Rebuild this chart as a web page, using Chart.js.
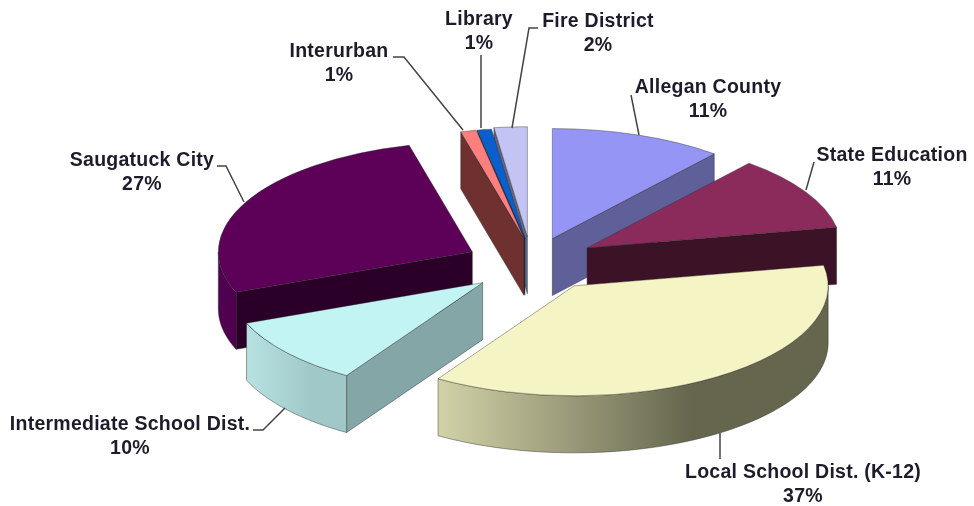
<!DOCTYPE html>
<html>
<head>
<meta charset="utf-8">
<title>Tax distribution</title>
<script src="https://cdn.jsdelivr.net/npm/chart.js@4"></script>
<style>
  html, body { margin: 0; padding: 0; background: #fff; }
  #pie { display: block; filter: blur(0.5px); }
</style>
</head>
<body>
<canvas id="pie" width="974" height="506"></canvas>
<script>
// Data
const categories = ["Allegan County", "State Education", "Local School Dist. (K-12)", "Intermediate School Dist.", "Saugatuck City", "Interurban", "Library", "Fire District"];
const values = [11, 11, 37, 10, 27, 1, 0.9, 2.1];

// Slice styling
const topColors = ["#9595f5", "#8b2b5c", "#f4f4c4", "#c2f4f4", "#5c0058", "#ff7f7f", "#0a5fcc", "#c4c4f4"];
const cutColors = ["#5f5f99", "#3c1226", "#66664e", "#84a6a6", "#2a0028", "#6f3030", "#05305f", "#666680"];
const wallFrom = ["#5f5f99", "#3c1226", "#d2d2a8", "#b8e2e2", "#4f0050", "#6f3030", "#05305f", "#666680"];
const wallTo = ["#5f5f99", "#3c1226", "#66664e", "#a0c8c8", "#4f0050", "#6f3030", "#05305f", "#666680"];

// Exploded pie layout
const radius = 254;
const tilt = 0.433;
const depth = 57;
const pieX = 532;
const pieY = 262;
const explode = [60, 64, 75, 64, 67, 37, 44, 70];
const lift = [1, 0, -3, 3, 3, -8, -5, 5];

// Label layout: centre x, y of the name line, and the leader line points
const labelX = [708, 892, 803, 130, 142, 339, 479, 598];
const labelY = [88, 156, 473, 425, 161, 52, 20, 22];
const leaders = [
  [[631, 95], [639, 135]],
  [[814, 162], [806, 190]],
  [[720, 459], [720, 433]],
  [[253, 430], [263, 430], [285, 408]],
  [[217, 166], [226, 166], [244, 202]],
  [[393, 57], [404, 57], [463, 130]],
  [[481, 55], [481, 128]],
  [[538, 28], [529, 28], [512, 128]],
];

function slicePoint(origin, angle, r, drop) {
  return {
    x: origin.x + Math.cos(angle) * r,
    y: origin.y + Math.sin(angle) * r * tilt + drop,
  };
}

function fillPoly(ctx, pts, fill) {
  ctx.beginPath();
  pts.forEach((p, i) => (i ? ctx.lineTo(p.x, p.y) : ctx.moveTo(p.x, p.y)));
  ctx.closePath();
  ctx.fillStyle = fill;
  ctx.fill();
  ctx.lineWidth = 0.8;
  ctx.strokeStyle = "rgba(40,40,40,0.55)";
  ctx.stroke();
}

function drawCut(ctx, origin, angle, fill) {
  const a = slicePoint(origin, angle, 0, 0);
  const b = slicePoint(origin, angle, radius, 0);
  fillPoly(ctx, [a, b, { x: b.x, y: b.y + depth }, { x: a.x, y: a.y + depth }], fill);
}

function drawWall(ctx, origin, start, end, i) {
  // only the part of the rim that faces the viewer
  let from = start;
  let to = end;
  if (Math.sin(from) < 0) from = from < 0 ? 0 : from;
  if (to > Math.PI) to = Math.PI;
  if (to <= from || from > Math.PI) return;

  const pts = [];
  const steps = 60;
  for (let s = 0; s <= steps; s++) {
    pts.push(slicePoint(origin, from + ((to - from) * s) / steps, radius, 0));
  }
  for (let s = steps; s >= 0; s--) {
    pts.push(slicePoint(origin, from + ((to - from) * s) / steps, radius, depth));
  }
  const xs = pts.map((p) => p.x);
  const grad = ctx.createLinearGradient(Math.min(...xs), 0, Math.max(...xs), 0);
  grad.addColorStop(0, wallFrom[i]);
  grad.addColorStop(0.65, wallTo[i]);
  grad.addColorStop(1, wallTo[i]);
  fillPoly(ctx, pts, grad);
}

// Draws the library's arc elements as tilted, extruded slices
const tiltedPie = {
  id: "tiltedPie",
  beforeDatasetDraw() {
    return false;
  },
  afterDatasetsDraw(chart) {
    const ctx = chart.ctx;
    const arcs = chart.getDatasetMeta(0).data;

    const slices = arcs.map((arc, i) => {
      const mid = (arc.startAngle + arc.endAngle) / 2;
      return {
        arc,
        i,
        origin: {
          x: pieX + Math.cos(mid) * explode[i],
          y: pieY + Math.sin(mid) * explode[i] * tilt + lift[i],
        },
      };
    });
    slices.sort((a, b) => a.origin.y - b.origin.y || b.i - a.i);

    slices.forEach(({ arc, i, origin }) => {
      const start = arc.startAngle;
      const end = arc.endAngle;

      if (Math.sin(start - Math.PI / 2) > 0.01) drawCut(ctx, origin, start, cutColors[i]);
      if (Math.sin(end + Math.PI / 2) > 0.01) drawCut(ctx, origin, end, cutColors[i]);
      drawWall(ctx, origin, start, end, i);

      ctx.save();
      ctx.translate(origin.x, origin.y);
      ctx.scale(1, tilt);
      ctx.translate(-arc.x, -arc.y);
      arc.draw(ctx);
      ctx.restore();
    });

    // Leaders and labels
    ctx.lineWidth = 1.5;
    ctx.strokeStyle = "#444";
    leaders.forEach((line) => {
      ctx.beginPath();
      line.forEach((p, j) => (j ? ctx.lineTo(p[0], p[1]) : ctx.moveTo(p[0], p[1])));
      ctx.stroke();
    });

    ctx.font = "bold 19.5px 'Liberation Sans'";
    ctx.letterSpacing = "0.25px";
    ctx.fillStyle = "#1c1c2a";
    ctx.textAlign = "center";
    ctx.textBaseline = "middle";
    categories.forEach((name, i) => {
      ctx.fillText(name, labelX[i], labelY[i]);
      ctx.fillText(Math.round(values[i]) + "%", labelX[i], labelY[i] + 24);
    });
  },
};

new Chart(document.getElementById("pie"), {
  type: "pie",
  data: {
    labels: categories,
    datasets: [
      {
        data: values,
        backgroundColor: topColors,
        borderColor: "rgba(40,40,40,0.55)",
        borderWidth: 1,
        radius: radius,
      },
    ],
  },
  options: {
    responsive: false,
    animation: false,
    plugins: {
      legend: { display: false },
      tooltip: { enabled: false },
    },
  },
  plugins: [tiltedPie],
});
</script>
</body>
</html>
